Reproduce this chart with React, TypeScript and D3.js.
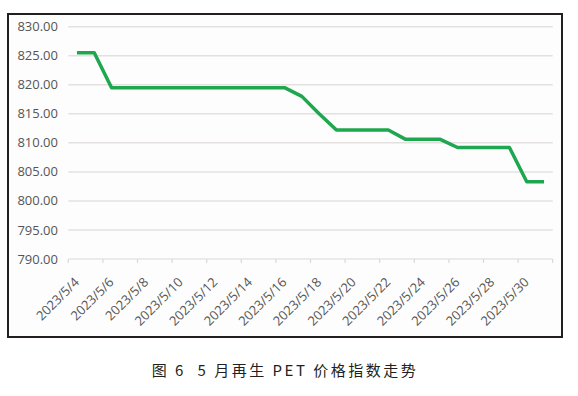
import React from 'react'
import * as d3 from 'd3'

const dates = [
  '2023/5/4', '2023/5/5', '2023/5/6', '2023/5/7', '2023/5/8', '2023/5/9', '2023/5/10',
  '2023/5/11', '2023/5/12', '2023/5/13', '2023/5/14', '2023/5/15', '2023/5/16', '2023/5/17',
  '2023/5/18', '2023/5/19', '2023/5/20', '2023/5/21', '2023/5/22', '2023/5/23', '2023/5/24',
  '2023/5/25', '2023/5/26', '2023/5/27', '2023/5/28', '2023/5/29', '2023/5/30', '2023/5/31',
]
const prices = [
  825.5, 825.5, 819.5, 819.5, 819.5, 819.5, 819.5,
  819.5, 819.5, 819.5, 819.5, 819.5, 819.5, 818.0,
  815.0, 812.2, 812.2, 812.2, 812.2, 810.6, 810.6,
  810.6, 809.2, 809.2, 809.2, 809.2, 803.3, 803.3,
]
const yTicks = [790, 795, 800, 805, 810, 815, 820, 825, 830]
const caption = '图 6  5 月再生 PET 价格指数走势'

const W = 578
const H = 396

const App = () => {
  const x = d3.scaleBand<string>().domain(dates).range([68.3, 552.7])
  const y = d3.scaleLinear().domain([790, 830]).range([259, 26.7])
  const cx = (d: string) => (x(d) ?? 0) + x.bandwidth() / 2

  const line = d3.line<number>()
    .x((_, i) => cx(dates[i]))
    .y(v => y(v))

  // ticks every two categories, labels on every other date
  const tickX = d3.range(0, dates.length + 1, 2).map(i => 68.3 + i * x.step())
  const labelled = dates.filter((_, i) => i % 2 === 0)

  const axisFont = '"Open Sans", "Liberation Sans", sans-serif'

  return (
    <svg width={W} height={H} style={{ position: 'absolute', left: 0, top: 0 }}>
      <rect x={0} y={0} width={W} height={H} fill='#ffffff' />
      <rect x={8} y={14} width={554} height={323} fill='#fdfdfd' stroke='#231f20' strokeWidth={2} />

      {yTicks.map(t => (
        <g key={t}>
          {t !== 790 && (
            <line x1={68.3} x2={552.7} y1={y(t)} y2={y(t)} stroke='#e4e0e0' strokeWidth={1.5} />
          )}
          <text x={58} y={y(t)} dy='0.35em' textAnchor='end' fontSize={13}
            fontFamily={axisFont} fill='#555555'>{t.toFixed(2)}</text>
        </g>
      ))}

      <line x1={68.3} x2={552.7} y1={y(790)} y2={y(790)} stroke='#d9d9d9' strokeWidth={1.2} />
      {tickX.map((tx, i) => (
        <line key={i} x1={tx} x2={tx} y1={y(790)} y2={y(790) + 4} stroke='#d9d9d9' strokeWidth={1.2} />
      ))}

      {labelled.map(d => (
        <text key={d} transform={`translate(${cx(d) + 3},${283}) rotate(-45)`} textAnchor='end'
          fontSize={13} fontFamily={axisFont} fill='#555555'>{d}</text>
      ))}

      <path d={line(prices) ?? ''} fill='none' stroke='#1fa74f' strokeWidth={3.5}
        strokeLinejoin='round' />

      <text x={285} y={376} textAnchor='middle' fontSize={15} letterSpacing={2.5}
        fontFamily='"Noto Sans CJK SC", sans-serif' fill='#231f20'
        style={{ whiteSpace: 'pre' }}>{caption}</text>
    </svg>
  )
}

export default App
